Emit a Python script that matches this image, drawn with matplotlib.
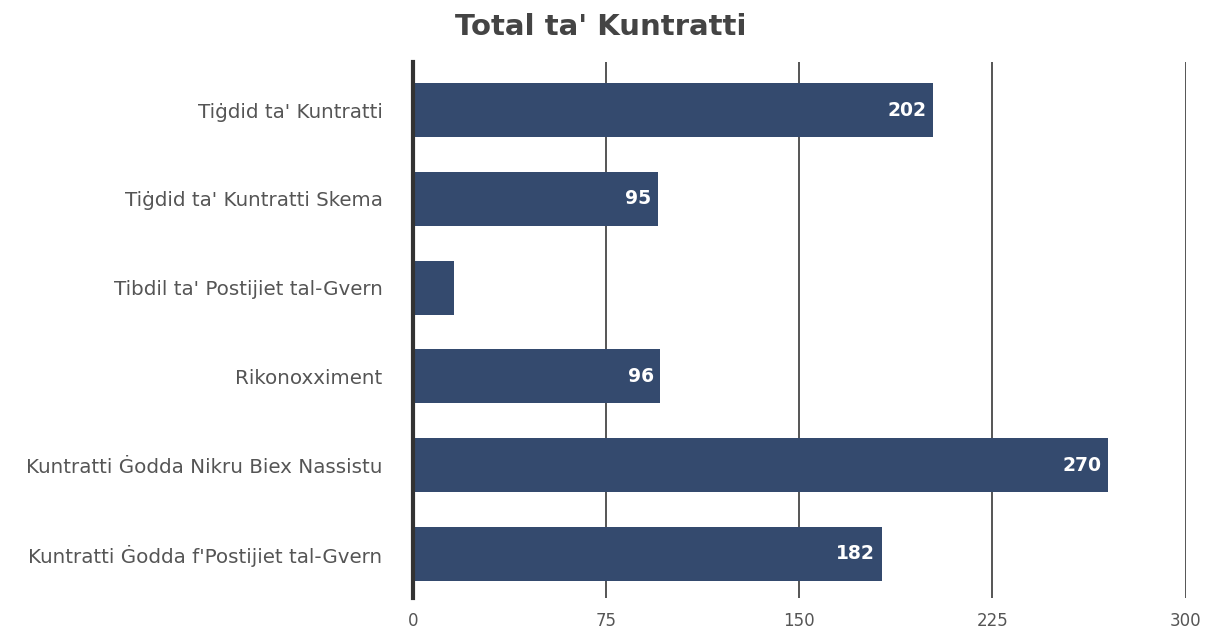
import matplotlib.pyplot as plt

# Kuntratti - totali
categories = [
    "Tiġdid ta' Kuntratti",
    "Tiġdid ta' Kuntratti Skema",
    "Tibdil ta' Postijiet tal-Gvern",
    "Rikonoxximent",
    "Kuntratti Ġodda Nikru Biex Nassistu",
    "Kuntratti Ġodda f'Postijiet tal-Gvern",
]
values = [202, 95, 16, 96, 270, 182]
show_label = [True, True, False, True, True, True]
xticks = [0, 75, 150, 225, 300]

bar_color = '#344a6e'
text_grey = '#555555'

fig = plt.figure(figsize=(12.11, 6.35), dpi=100)
ax = fig.add_axes([0.341, 0.058, 0.638, 0.844])

ypos = list(range(len(categories)))
ax.barh(ypos, values, height=0.61, color=bar_color, zorder=3)

for y, v, show in zip(ypos, values, show_label):
    if show:
        ax.text(v - 2.5, y, str(v), ha='right', va='center', color='white',
                fontsize=13.5, fontweight='bold', zorder=4)

ax.set_xlim(0, 300)
ax.set_ylim(5.5, -0.54)
ax.set_xticks(xticks)
ax.set_xticklabels([str(t) for t in xticks], color=text_grey, fontsize=12)
ax.set_yticks(ypos)
ax.set_yticklabels(categories, color=text_grey, fontsize=14.3)
ax.tick_params(axis='both', length=0)
ax.tick_params(axis='y', pad=22)
ax.tick_params(axis='x', pad=10)

for t in xticks[1:]:
    ax.axvline(t, color='#555555', linewidth=1.4, zorder=1)

for s in ['top', 'right', 'bottom']:
    ax.spines[s].set_visible(False)
ax.spines['left'].set_color('#333333')
ax.spines['left'].set_linewidth(3)
ax.spines['left'].set_zorder(5)

fig.text(0.496, 0.958, "Total ta' Kuntratti", ha='center', va='center',
         fontsize=21, fontweight='bold', color='#444444')

fig.savefig('out.png', dpi=100)
